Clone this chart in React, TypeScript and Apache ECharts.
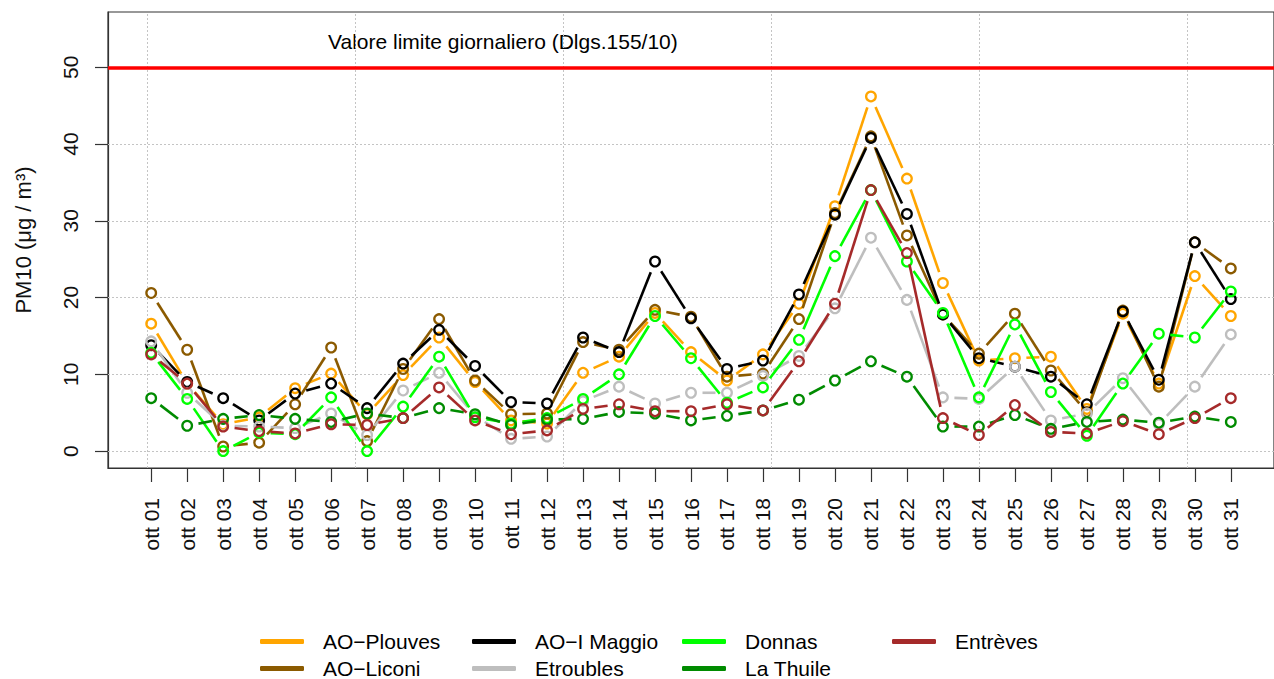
import { useEffect, useRef } from 'react';
import * as echarts from 'echarts';

const days = [
  'ott 01', 'ott 02', 'ott 03', 'ott 04', 'ott 05', 'ott 06', 'ott 07', 'ott 08', 'ott 09', 'ott 10',
  'ott 11', 'ott 12', 'ott 13', 'ott 14', 'ott 15', 'ott 16', 'ott 17', 'ott 18', 'ott 19', 'ott 20',
  'ott 21', 'ott 22', 'ott 23', 'ott 24', 'ott 25', 'ott 26', 'ott 27', 'ott 28', 'ott 29', 'ott 30', 'ott 31',
];

const plouves = [16.6, 8.8, 3.5, 4.4, 8.2, 10.1, 4.8, 9.9, 14.8, 9.0, 4.0, 3.6, 10.2, 12.3, 18.0, 12.9, 9.2, 12.6, 19.2, 31.9, 46.2, 35.5, 21.9, 11.8, 12.1, 12.3, 5.5, 17.9, 8.8, 22.8, 17.6];
const liconi = [20.6, 13.2, 0.6, 1.1, 6.1, 13.5, 1.3, 10.7, 17.2, 9.2, 4.8, 4.9, 14.2, 13.2, 18.4, 17.5, 9.7, 10.1, 17.2, 31.0, 41.0, 28.1, 17.8, 12.7, 17.9, 10.5, 5.1, 18.3, 8.4, 27.2, 23.8];
const maggio = [13.8, 9.0, 6.9, 4.0, 7.5, 8.8, 5.6, 11.4, 15.8, 11.1, 6.4, 6.2, 14.8, 12.9, 24.7, 17.3, 10.7, 11.8, 20.4, 30.8, 40.8, 30.9, 17.8, 12.1, 11.0, 9.7, 6.1, 18.2, 9.3, 27.2, 19.8];
const etroubles = [14.3, 7.6, 3.3, 3.2, 3.0, 4.9, 2.1, 7.9, 10.2, 4.6, 1.6, 1.9, 6.5, 8.4, 6.2, 7.6, 7.6, 9.8, 12.4, 18.6, 27.8, 19.7, 7.0, 6.8, 11.0, 4.0, 4.9, 9.5, 3.5, 8.4, 15.2];
const donnas = [12.8, 6.8, 0.0, 2.4, 2.2, 7.0, 0.0, 5.8, 12.3, 4.4, 3.6, 4.3, 6.8, 10.0, 17.6, 12.1, 6.3, 8.3, 14.5, 25.4, 34.0, 24.7, 18.0, 7.0, 16.5, 7.7, 2.0, 8.8, 15.3, 14.8, 20.8];
const laThuile = [6.9, 3.3, 4.2, 4.7, 4.2, 3.8, 4.9, 4.3, 5.6, 4.8, 3.4, 4.1, 4.2, 5.1, 4.9, 4.0, 4.6, 5.3, 6.7, 9.2, 11.7, 9.7, 3.2, 3.2, 4.7, 2.9, 3.8, 4.1, 3.7, 4.5, 3.8];
const entreves = [12.6, 8.8, 3.2, 2.6, 2.3, 3.5, 3.4, 4.3, 8.3, 4.0, 2.2, 2.7, 5.5, 6.1, 5.2, 5.2, 6.1, 5.3, 11.7, 19.2, 34.0, 25.8, 4.3, 2.1, 6.0, 2.5, 2.3, 3.9, 2.2, 4.3, 6.9];

const stationNames = ['AO\u2212Plouves', 'AO\u2212Liconi', 'AO\u2212I Maggio', 'Etroubles', 'Donnas', 'La Thuile', 'Entrèves'];
const stationValues = [plouves, liconi, maggio, etroubles, donnas, laThuile, entreves];
const stationColors = ['#FFA500', '#8B5A00', '#000000', '#BEBEBE', '#00FF00', '#008B00', '#A52A2A'];

const yTicks = [0, 10, 20, 30, 40, 50];
const hGrid = [0, 10, 20, 30, 40];
const vGrid = [0.9, 6.68, 12.46, 18.24, 24.02, 29.8];
const limitValue = 50;
const limitLabel = 'Valore limite giornaliero (Dlgs.155/10)';
const yTitle = 'PM10 (μg / m³)';

const legendColumns = [
  ['AO\u2212Plouves', 'AO\u2212Liconi'],
  ['AO\u2212I Maggio', 'Etroubles'],
  ['Donnas', 'La Thuile'],
  ['Entrèves'],
];
const legendLefts = [260, 472, 682, 892];

const FONT = 'Liberation Sans, Arial, Helvetica, sans-serif';

export default function App() {
  const ref = useRef<HTMLDivElement>(null);

  useEffect(() => {
    if (!ref.current) return;
    const chart = echarts.init(ref.current, null, { renderer: 'svg' });
    const GAP = 11.5;

    const customSeries = stationNames.map((name, si) => {
      const vals = stationValues[si];
      return {
        name,
        type: 'custom',
        coordinateSystem: 'cartesian2d',
        encode: { x: 0, y: 1 },
        itemStyle: { color: stationColors[si] },
        data: vals.map((v, i) => [i + 1, v]),
        z: 10 + si,
        renderItem: (params: any, api: any) => {
          const i = params.dataIndex;
          const color = stationColors[si];
          const p = api.coord([api.value(0), api.value(1)]);
          const children: any[] = [
            {
              type: 'circle',
              shape: { cx: p[0], cy: p[1], r: 4.8 },
              style: { fill: 'transparent', stroke: color, lineWidth: 2.3 },
            },
          ];
          if (i < vals.length - 1) {
            const q = api.coord([i + 2, vals[i + 1]]);
            const dx = q[0] - p[0];
            const dy = q[1] - p[1];
            const L = Math.hypot(dx, dy);
            if (L > 2 * GAP) {
              const ux = dx / L;
              const uy = dy / L;
              children.push({
                type: 'line',
                shape: { x1: p[0] + ux * GAP, y1: p[1] + uy * GAP, x2: q[0] - ux * GAP, y2: q[1] - uy * GAP },
                style: { stroke: color, lineWidth: 2.6, lineCap: 'butt' },
              });
            }
          }
          return { type: 'group', children };
        },
      };
    });

    const gridSeries = {
      name: 'grid',
      type: 'line',
      data: [],
      silent: true,
      z: 1,
      markLine: {
        silent: true,
        symbol: 'none',
        label: { show: false },
        animation: false,
        lineStyle: { type: [2, 2], color: '#c4c4c4', width: 1 },
        data: [
          ...vGrid.map((v) => ({ xAxis: v })),
          ...hGrid.map((v) => ({ yAxis: v })),
        ],
      },
    };

    const limitSeries = {
      name: 'limit',
      type: 'line',
      data: [],
      silent: true,
      z: 2,
      markLine: {
        silent: true,
        symbol: 'none',
        label: { show: false },
        animation: false,
        lineStyle: { type: 'solid', color: '#FF0000', width: 3.5 },
        data: [{ yAxis: limitValue }],
      },
    };

    const dayValues = days.map((_, i) => i + 1);

    chart.setOption({
      animation: false,
      color: stationColors,
      textStyle: { fontFamily: FONT },
      grid: {
        left: 108,
        top: 12,
        width: 1172,
        height: 456,
        show: true,
        borderColor: '#333',
        borderWidth: 1.2,
        backgroundColor: 'transparent',
      },
      xAxis: {
        type: 'value',
        min: -0.2,
        max: 32.2,
        axisLine: { show: true, onZero: false, lineStyle: { color: '#333', width: 1.2 } },
        axisTick: { show: true, customValues: dayValues, length: 14, lineStyle: { color: '#333', width: 1.2 } },
        axisLabel: {
          customValues: dayValues,
          rotate: 90,
          margin: 30,
          fontSize: 21,
          color: '#111',
          fontFamily: FONT,
          formatter: (v: number) => days[Math.round(v) - 1] ?? '',
        },
        splitLine: { show: false },
      },
      yAxis: {
        type: 'value',
        min: -2.2,
        max: 57.2,
        name: yTitle,
        nameLocation: 'middle',
        nameRotate: 90,
        nameGap: 74,
        nameTextStyle: { fontSize: 22, color: '#111', fontFamily: FONT },
        axisLine: { show: true, onZero: false, lineStyle: { color: '#333', width: 1.2 } },
        axisTick: { show: true, customValues: yTicks, length: 13, lineStyle: { color: '#333', width: 1.2 } },
        axisLabel: {
          customValues: yTicks,
          rotate: 90,
          margin: 27,
          fontSize: 21,
          color: '#111',
          fontFamily: FONT,
        },
        splitLine: { show: false },
      },
      legend: legendColumns.map((col, ci) => ({
        data: col,
        left: legendLefts[ci],
        top: 631,
        padding: 0,
        orient: 'vertical',
        icon: 'roundRect',
        itemWidth: 44,
        itemHeight: 5,
        itemGap: 6,
        selectedMode: false,
        textStyle: { fontSize: 21, color: '#000', fontFamily: FONT, padding: [0, 0, 0, 14], lineHeight: 21 },
      })),
      graphic: [
        {
          type: 'text',
          left: 328,
          top: 31,
          style: { text: limitLabel, fontSize: 21, fill: '#000', fontFamily: FONT },
        },
      ],
      series: [gridSeries, limitSeries, ...customSeries],
    });

    return () => chart.dispose();
  }, []);

  return <div ref={ref} style={{ position: 'absolute', left: 0, top: 0, width: 1274, height: 679 }} />;
}
